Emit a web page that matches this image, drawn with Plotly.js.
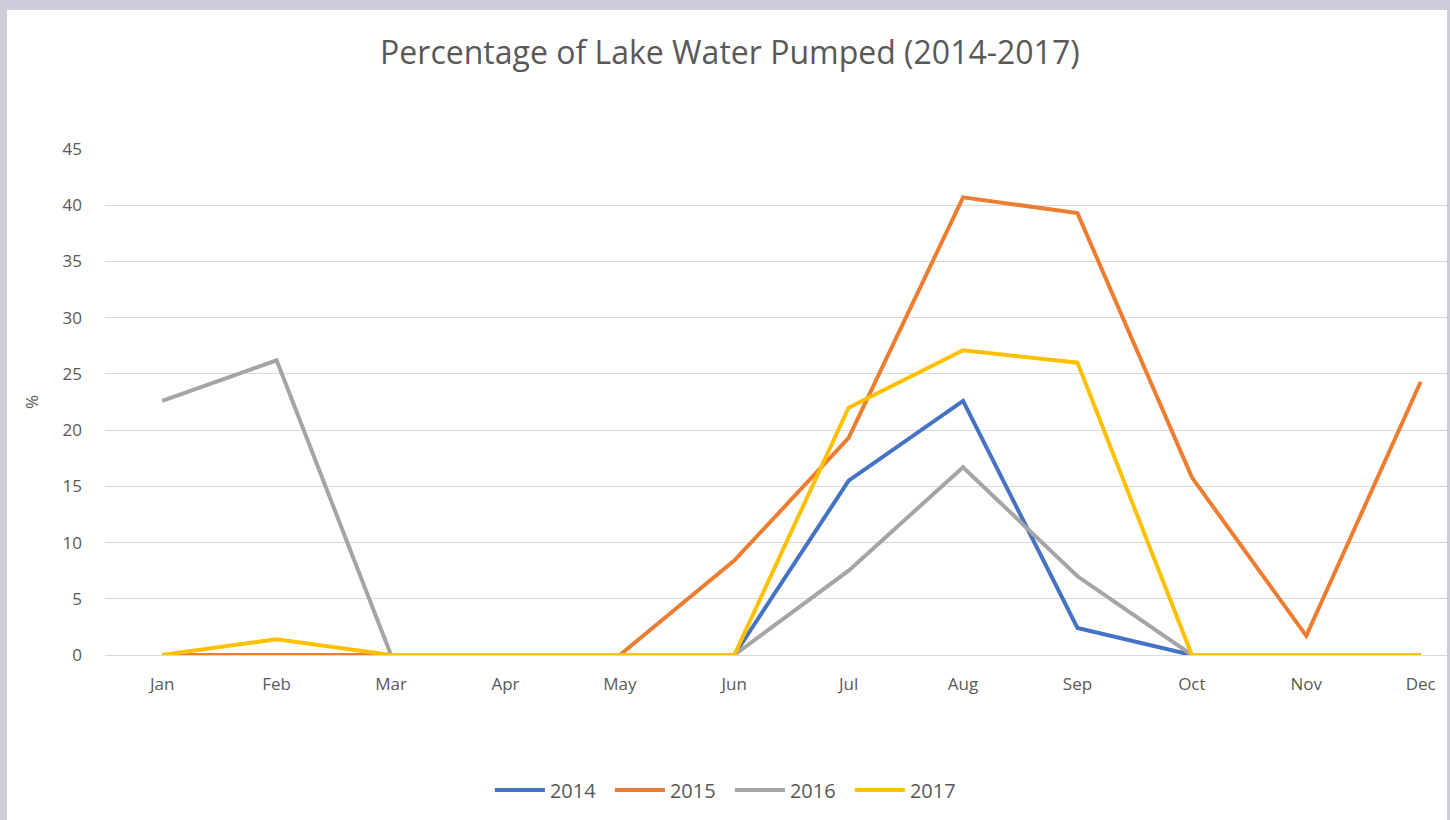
<!DOCTYPE html>
<html>
<head>
<meta charset="utf-8">
<script src="https://cdn.plot.ly/plotly-3.0.1.min.js"></script>
<style>
  html, body { margin: 0; padding: 0; background: #cdcddb; width: 1450px; height: 820px; overflow: hidden; }
  #chart { position: absolute; left: 7px; top: 10px; width: 1440px; height: 810px; background: #fff; }
</style>
</head>
<body>
<div id="chart"></div>
<script>
const months = ["Jan","Feb","Mar","Apr","May","Jun","Jul","Aug","Sep","Oct","Nov","Dec"];
const y2014 = [0, 0, 0, 0, 0, 0, 15.5, 22.6, 2.4, 0, 0, 0];
const y2015 = [0, 0, 0, 0, 0, 8.4, 19.3, 40.7, 39.3, 15.8, 1.7, 24.3];
const y2016 = [22.6, 26.2, 0, 0, 0, 0, 7.5, 16.7, 7.0, 0, 0, 0];
const y2017 = [0, 1.4, 0, 0, 0, 0, 22.0, 27.1, 26.0, 0, 0, 0];
const seriesNames = ["2014", "2015", "2016", "2017"];
const seriesColors = ["#4472C4", "#ED7D31", "#A5A5A5", "#FFC000"];
const seriesData = [y2014, y2015, y2016, y2017];

const traces = seriesData.map((ys, i) => ({
  type: "scatter",
  mode: "lines",
  name: seriesNames[i],
  x: months,
  y: ys,
  line: { color: seriesColors[i], width: 4 },
  hoverinfo: "x+y+name"
}));

const font = "'Open Sans', Lato, sans-serif";
const layout = {
  width: 1440,
  height: 810,
  paper_bgcolor: "#ffffff",
  plot_bgcolor: "#ffffff",
  margin: { l: 98, r: 0, t: 139, b: 165 },
  font: { family: font, color: "#595959", size: 17 },
  title: {
    text: "Percentage of Lake Water Pumped (2014-2017)",
    font: { family: font, size: 32, color: "#595959" },
    xref: "container", x: 0.502, xanchor: "center",
    yref: "container", y: 0.947, yanchor: "middle"
  },
  xaxis: {
    type: "category",
    range: [-0.5, 11.23],
    showgrid: false,
    showline: false,
    zeroline: false,
    ticks: "",
    ticklabelstandoff: 17,
    tickfont: { family: font, size: 17, color: "#595959" },
    fixedrange: true
  },
  yaxis: {
    range: [0, 45],
    dtick: 5,
    tick0: 0,
    showgrid: true,
    gridcolor: "#d9d9d9",
    gridwidth: 1,
    zeroline: true,
    zerolinecolor: "#d9d9d9",
    zerolinewidth: 1,
    showline: false,
    ticks: "",
    ticklabelstandoff: 22,
    tickfont: { family: font, size: 17, color: "#595959" },
    title: { text: "%", font: { family: font, size: 17, color: "#595959" }, standoff: 19 },
    fixedrange: true
  },
  showlegend: true,
  legend: {
    orientation: "h",
    xref: "container", x: 0.502, xanchor: "center",
    yref: "container", y: 0.037, yanchor: "middle",
    font: { family: font, size: 20, color: "#595959" },
    itemwidth: 50,
    entrywidth: 55,
    entrywidthmode: "pixels",
    bgcolor: "rgba(0,0,0,0)"
  }
};

Plotly.newPlot("chart", traces, layout, { displayModeBar: false, staticPlot: true });
</script>
</body>
</html>
